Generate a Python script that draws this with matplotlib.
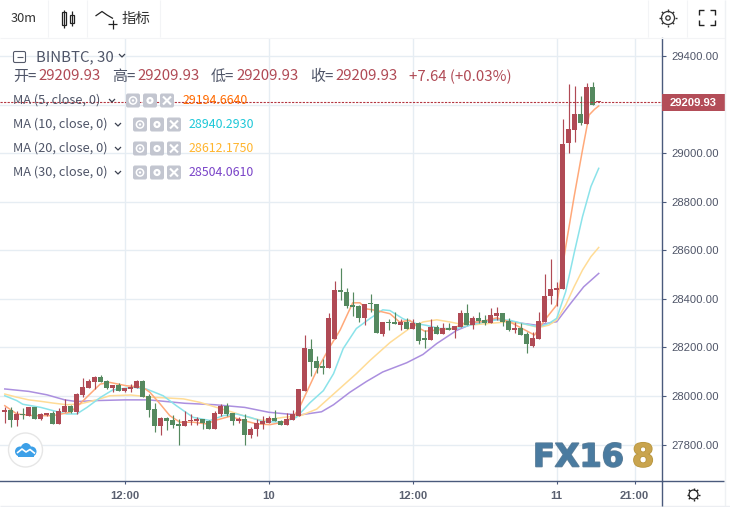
import numpy as np
import matplotlib
matplotlib.use("Agg")   # no display needed
import matplotlib.pyplot as plt
import matplotlib.patheffects as pe
from matplotlib.patches import Circle, Ellipse, FancyBboxPatch, Rectangle

# candles (red = close above open)
opens = [27932, 27944, 27903, 27927, 27919, 27956, 27907, 27923, 27931, 27886,
         27936, 27960, 27936, 28005, 28034, 28059, 28079, 28063, 28034, 28047,
         28022, 28030, 28034, 28063, 28001, 27947, 27878, 27911, 27903, 27886,
         27878, 27895, 27895, 27907, 27895, 27866, 27927, 27960, 27931, 27899,
         27907, 27841, 27862, 27886, 27890, 27911, 27899, 27882, 27903, 27919,
         28022, 28193, 28144, 28120, 28117, 28234, 28438, 28430, 28373, 28369,
         28320, 28381, 28381, 28254, 28303, 28303, 28291, 28303, 28275, 28299,
         28238, 28230, 28283, 28254, 28279, 28271, 28283, 28344, 28291, 28320,
         28312, 28299, 28328, 28340, 28308, 28271, 28279, 28254, 28205, 28234,
         28304, 28412, 28436, 28441, 29044, 29096, 29162, 29121, 29273, 29209.93]
closes = [27944, 27903, 27927, 27920, 27956, 27907, 27927, 27931, 27886, 27940,
          27960, 27936, 28010, 28038, 28063, 28079, 28059, 28034, 28047, 28022,
          28034, 28038, 28063, 27997, 27944, 27878, 27911, 27899, 27882, 27878,
          27899, 27899, 27907, 27890, 27866, 27931, 27960, 27927, 27899, 27907,
          27841, 27866, 27890, 27895, 27911, 27895, 27882, 27907, 27927, 28030,
          28197, 28142, 28117, 28117, 28320, 28438, 28427, 28369, 28365, 28320,
          28381, 28378, 28259, 28303, 28300, 28295, 28303, 28275, 28299, 28226,
          28230, 28283, 28254, 28279, 28271, 28287, 28344, 28291, 28320, 28308,
          28299, 28332, 28340, 28303, 28271, 28279, 28250, 28214, 28238, 28309,
          28412, 28440, 28445, 29038, 29100, 29162, 29125, 29273, 29199, 29209.93]
highs = [27956, 27953, 27940, 27952, 27956, 27956, 27931, 27931, 27940, 27952,
         27989, 27964, 28014, 28075, 28071, 28084, 28088, 28067, 28047, 28055,
         28034, 28051, 28067, 28067, 28010, 27973, 27915, 27915, 27923, 27907,
         27940, 27927, 27915, 27907, 27903, 27940, 27968, 27973, 27931, 27915,
         27927, 27874, 27907, 27919, 27919, 27944, 27903, 27931, 27944, 28030,
         28250, 28234, 28165, 28152, 28344, 28475, 28528, 28446, 28430, 28373,
         28381, 28422, 28381, 28303, 28316, 28348, 28316, 28320, 28316, 28303,
         28271, 28316, 28291, 28299, 28299, 28287, 28356, 28377, 28328, 28348,
         28332, 28361, 28365, 28340, 28320, 28303, 28299, 28262, 28263, 28346,
         28502, 28564, 28469, 29142, 29286, 29278, 29236, 29290, 29294, 29209.93]
lows = [27890, 27874, 27878, 27907, 27919, 27907, 27903, 27919, 27886, 27886,
        27936, 27931, 27927, 27997, 28034, 28030, 28059, 28030, 28018, 28022,
        28018, 28018, 28034, 27997, 27915, 27853, 27841, 27858, 27870, 27800,
        27878, 27882, 27882, 27862, 27866, 27866, 27919, 27919, 27882, 27890,
        27800, 27825, 27837, 27862, 27890, 27895, 27882, 27882, 27903, 27919,
        28022, 28084, 28095, 28090, 28117, 28234, 28397, 28361, 28328, 28303,
        28291, 28348, 28259, 28246, 28271, 28295, 28271, 28275, 28275, 28214,
        28197, 28230, 28254, 28254, 28271, 28238, 28283, 28291, 28275, 28299,
        28291, 28299, 28312, 28287, 28267, 28259, 28250, 28177, 28201, 28234,
        28304, 28379, 28370, 28441, 29001, 29047, 29117, 29121, 29199, 29209.93]

# moving averages, read at a few bars each
ma5_x = [0, 2, 4.8, 8, 10.9, 12.5, 15.9, 17.5, 20.3, 23, 24.2, 25.9, 27.5, 29.2, 31.4,
         33.6, 35.3, 37.5, 39.8, 42, 44.2, 46.4, 48, 49, 52, 54.2, 55.9, 58, 59.2,
         60.3, 62, 64.2, 65.8, 67.5, 69.2, 70, 73, 74.7, 77, 79.2, 82, 84.2, 85.8,
         88.3, 90, 92, 93.5, 94.9, 96.3, 97.4, 98.3, 99]
ma5 = [27960, 27926, 27919, 27919, 27933, 27967, 28049, 28056, 28042, 28036, 28015,
       27967, 27919, 27892, 27892, 27885, 27901, 27916, 27899, 27885, 27882, 27892,
       27912, 27946, 28105, 28203, 28272, 28384, 28384, 28359, 28352, 28339, 28305,
       28312, 28278, 28267, 28274, 28278, 28305, 28305, 28322, 28305, 28284, 28251,
       28313, 28375, 28615, 28821, 29014, 29158, 29181, 29195]
ma10_x = [0, 2, 3, 6, 8, 10.3, 12, 13.7, 16, 18, 21.4, 23.6, 26.4, 28.6, 31.4, 34.2,
          36.4, 38.6, 40.9, 43, 46.4, 48.6, 50.9, 53.1, 54.8, 56.4, 58.6, 60.8, 63,
          64.2, 66.4, 68.6, 70.3, 72.5, 75.3, 78.6, 82, 84.2, 86.4, 89, 90.7, 92,
          93.5, 94.9, 96.3, 97.7, 99]
ma10 = [28001, 27981, 27966, 27953, 27940, 27926, 27926, 27953, 27995, 28025, 28036,
        28029, 28001, 27960, 27912, 27899, 27919, 27926, 27912, 27895, 27892, 27912,
        27973, 28022, 28092, 28195, 28278, 28318, 28355, 28352, 28318, 28298, 28291,
        28278, 28278, 28298, 28314, 28312, 28298, 28285, 28299, 28320, 28430, 28588,
        28739, 28863, 28938]
ma20_x = [0, 2, 4, 6, 8, 10.3, 12.5, 15.3, 17.5, 21, 23, 24.2, 27, 29.8, 32.5, 35.3,
          38, 40.9, 43, 46.4, 49.2, 52, 54.8, 58.6, 60.9, 64.2, 67.5, 69.7, 72, 74.2,
          77, 80.3, 83.6, 86.4, 89, 90.7, 92, 93.5, 94.9, 96.3, 97.7, 99]
ma20 = [28008, 27995, 27984, 27978, 27971, 27964, 27967, 27984, 28001, 28004, 27999,
        27995, 27992, 27988, 27974, 27953, 27933, 27910, 27899, 27912, 27918, 27946,
        28008, 28092, 28147, 28220, 28279, 28305, 28314, 28305, 28291, 28298, 28305,
        28298, 28282, 28292, 28313, 28375, 28450, 28519, 28574, 28612]
ma30_x = [0, 4, 7, 10, 12, 15, 20, 24, 30, 35, 40, 44, 47, 49.2, 52.8, 54.8, 57.5,
          60.3, 63, 67, 69.7, 72, 75.3, 78.6, 82, 86.4, 88.6, 92, 94.3, 96.5, 99]
ma30 = [28029, 28019, 28005, 27984, 27977, 27981, 27984, 27984, 27970, 27964, 27953,
        27933, 27926, 27922, 27935, 27964, 28015, 28060, 28099, 28137, 28171, 28216,
        28270, 28304, 28316, 28299, 28292, 28306, 28381, 28450, 28505]

y_ticks = [27800, 28000, 28200, 28400, 28600, 28800, 29000, 29400]
y_grid_hidden = [29200]   # label sits under the last price tag
x_ticks = [20, 44, 68, 92, 105]
x_labels = ["12:00", "10", "12:00", "11", "21:00"]
last_price = 29209.93

ma_labels = ["MA (5, close, 0)", "MA (10, close, 0)", "MA (20, close, 0)", "MA (30, close, 0)"]
ma_values = ["29194.6640", "28940.2930", "28612.1750", "28504.0610"]
ma_text_colors = ["#ff6a00", "#1fc8d8", "#ffb52e", "#7a44c8"]

RED = "#b04a55"
GREEN = "#55895f"
AXIS = "#4a5a7c"
TEXT = "#4f5568"
GRID = "#e6edf3"
CJK = ["Noto Sans CJK SC", "DejaVu Sans"]
W, H = 730, 507

fig = plt.figure(figsize=(W / 100, H / 100), dpi=100, facecolor="white")

# ── Price panel ──────────────────────────────────────────────
ax = fig.add_axes([0, (H - 480.7) / H, 662.3 / W, (480.7 - 38) / H])
ax.set_xlim(-0.8, 109.6)
ax.set_ylim(27651, 29475)
ax.set_yticks(y_ticks)
ax.set_yticklabels(["%.2f" % t for t in y_ticks], family="Liberation Sans", fontsize=8.1, color=TEXT)
ax.set_xticks(x_ticks)
ax.set_xticklabels(x_labels, family="Liberation Sans", fontsize=8.1, color="#5a6070", fontweight="bold")
ax.yaxis.tick_right()
ax.tick_params(axis="y", length=3, width=0.8, color=AXIS, pad=3.5)
ax.tick_params(axis="x", length=2.5, width=0.8, color=AXIS, pad=5)
ax.grid(True, color=GRID, lw=1.0, zorder=0)
ax.set_axisbelow(True)
for g in y_grid_hidden:
    ax.axhline(g, color=GRID, lw=1.0, zorder=0)
for side in ["top", "left"]:
    ax.spines[side].set_visible(False)
for side in ["right", "bottom"]:
    ax.spines[side].set_color(AXIS)
    ax.spines[side].set_linewidth(1.0)

ax.plot(ma30_x, ma30, color="#ab8fdf", lw=1.1, zorder=2)
ax.plot(ma20_x, ma20, color="#ffdc96", lw=1.1, zorder=2)
ax.plot(ma10_x, ma10, color="#8be3ea", lw=1.1, zorder=2)
ax.plot(ma5_x, ma5, color="#ffa97a", lw=1.1, zorder=2)

idx = np.arange(len(opens))
o = np.array(opens)
c = np.array(closes)
colors = [RED if up else GREEN for up in c >= o]
ax.vlines(idx, lows, highs, colors=colors, lw=0.85, zorder=3)
heights = np.maximum(np.abs(c - o), 5)
ax.bar(idx, heights, bottom=np.minimum(o, c), width=0.84, color=colors, lw=0, zorder=3)

ax.axhline(last_price, color="#b3343f", lw=0.8, ls=(0, (2, 1.2)), zorder=4)

# ── Page chrome, in pixels ───────────────────────────────────
ui = fig.add_axes([0, 0, 1, 1], zorder=5)
ui.set_xlim(0, W)
ui.set_ylim(H, 0)
ui.axis("off")
ui.patch.set_alpha(0)


def line(xs, ys, color=TEXT, lw=1.0):
    ui.plot(xs, ys, color=color, lw=lw, solid_capstyle="butt")


def chevron(x, y):
    line([x - 3, x, x + 3], [y - 1.5, y + 1.5, y - 1.5], color="#3c4150", lw=0.9)


def icon_buttons(x0, y):
    for k, name in enumerate(["eye", "gear", "close"]):
        x = x0 + k * 17
        ui.add_patch(FancyBboxPatch((x - 6, y - 6), 12, 12, boxstyle="round,pad=1,rounding_size=2",
                                    fc="#c3c6d0", ec="none"))
        if name == "eye":
            ui.add_patch(Circle((x, y), 3.6, fc="none", ec="white", lw=1.1))
            ui.add_patch(Circle((x, y), 1.2, fc="white", ec="none"))
        elif name == "gear":
            ui.add_patch(Circle((x, y), 3.6, fc="white", ec="none"))
            ui.add_patch(Circle((x, y), 1.3, fc="#c3c6d0", ec="none"))
        else:
            line([x - 4, x + 4], [y - 4, y + 4], color="white", lw=1.5)
            line([x - 4, x + 4], [y + 4, y - 4], color="white", lw=1.5)


def sun(x, y, r, n, color="#222222"):
    ui.add_patch(Circle((x, y), r, fc="white", ec=color, lw=0.9))
    for a in np.linspace(0, 2 * np.pi, n, endpoint=False):
        line([x + r * np.cos(a), x + (r + 2.2) * np.cos(a)],
             [y + r * np.sin(a), y + (r + 2.2) * np.sin(a)], color=color, lw=1.0)


# toolbar
for sep_x in [48, 87, 160, 648, 687]:
    line([sep_x, sep_x], [0, 37], color="#f3f4f6", lw=0.8)
line([0, 725], [37.5, 37.5], color="#f3f4f6", lw=0.8)
line([725, 725], [0, 507], color="#eff1f4", lw=1.0)
line([0, 730], [505.5, 505.5], color="#eceef2", lw=1.0)
ui.text(11, 18.5, "30m", family=CJK, fontsize=9.2, color="#333333", va="center")
ui.add_patch(Rectangle((61.5, 12), 4, 13, fc="white", ec="#222222", lw=0.9))
line([63.5, 63.5], [9.5, 28], color="#222222", lw=0.9)
ui.add_patch(Rectangle((70, 14.5), 3.5, 8, fc="white", ec="#222222", lw=0.9))
line([71.8, 71.8], [11, 26], color="#222222", lw=0.9)
line([95.5, 102, 107, 113], [16, 11.5, 15, 18.5], color="#222222", lw=0.9)
line([112.5, 112.5], [19.5, 28.5], color="#222222", lw=0.9)
line([108, 117], [24, 24], color="#222222", lw=0.9)
ui.text(122, 19, "指标", family=CJK, fontsize=10.4, color="#333333", va="center")
sun(668, 18, 6.5, 8, color="#333333")
ui.add_patch(Circle((668, 18), 2.2, fc="white", ec="#333333", lw=0.9))
for cx, cy, dx, dy in [(699, 10, 1, 1), (714.5, 10, -1, 1), (699, 25, 1, -1), (714.5, 25, -1, -1)]:
    line([cx + 5 * dx, cx, cx], [cy, cy, cy + 5 * dy], color="#222222", lw=1.0)

# legend block
ui.add_patch(FancyBboxPatch((14, 52), 11, 10, boxstyle="round,pad=0.5,rounding_size=1.5",
                            fc="white", ec="#555a6a", lw=0.8))
line([16.5, 22.5], [57, 57], color="#555a6a", lw=0.8)
ui.text(36, 57, "BINBTC, 30", family=CJK, fontsize=10.8, color=TEXT, va="center")
chevron(122, 55.5)

for label, lx, vx in [("开=", 13, 38), ("高=", 112, 137), ("低=", 211, 236), ("收=", 310, 335)]:
    ui.text(lx, 76.5, label, family=CJK, fontsize=10.8, color=TEXT, va="center")
    ui.text(vx, 76.5, "29209.93", family=CJK, fontsize=10.8, color=RED, va="center")
ui.text(409, 76.5, "+7.64 (+0.03%)", family=CJK, fontsize=10.8, color=RED, va="center")

for row, (label, value, tc) in enumerate(zip(ma_labels, ma_values, ma_text_colors)):
    y = 100.5 + row * 24
    ui.text(13, y, label, family=CJK, fontsize=9.2, color=TEXT, va="center")
    chev_x, icon_x, val_x = (112, 133, 183) if row == 0 else (118, 140, 189)
    chevron(chev_x, y)
    icon_buttons(icon_x, y)
    ui.text(val_x, y, value, family=CJK, fontsize=8.9, color=tc, va="center")

# last price tag and axis extensions
ui.add_patch(Rectangle((662.3, 94), 62.7, 17, fc="#b34d58", ec="none"))
ui.text(693.5, 102.5, "29209.93", family="Liberation Sans", fontsize=8.1, fontweight="bold",
        color="white", ha="center", va="center")
line([662.3, 724], [480.7, 480.7], color=AXIS, lw=1.0)
line([662.3, 662.3], [480.7, 506], color=AXIS, lw=1.0)
sun(693.5, 494.5, 4.5, 8)

# round logo, bottom left
ui.add_patch(Circle((25.5, 450), 17, fc="white", ec="#e6e6e6", lw=1.0))
for cx, cy, rx, ry in [(20, 451.5, 5, 5), (26, 449.5, 5.5, 6.5), (31.5, 451.5, 5, 5)]:
    ui.add_patch(Ellipse((cx, cy), 2 * rx, 2 * ry, fc="#3da0e8", ec="none"))
ui.add_patch(Rectangle((18, 451), 16, 5.5, fc="#3da0e8", ec="none"))
line([17, 22, 26, 30, 35], [453, 449, 452, 449.5, 453.5], color="white", lw=1.2)

# watermark
shadow = [pe.withStroke(linewidth=1.2, foreground="#5d7f99")]
ui.text(533, 466.5, "FX16", family="DejaVu Sans", fontweight="bold", fontsize=23, color="#4a7ba0",
        va="baseline", path_effects=shadow)
ui.text(632, 466.5, "8", family="DejaVu Sans", fontweight="bold", fontsize=23, color="#c9a44e",
        va="baseline", path_effects=[pe.withStroke(linewidth=1.2, foreground="#b8963f")])

fig.savefig("out.png", dpi=100, facecolor="white")
